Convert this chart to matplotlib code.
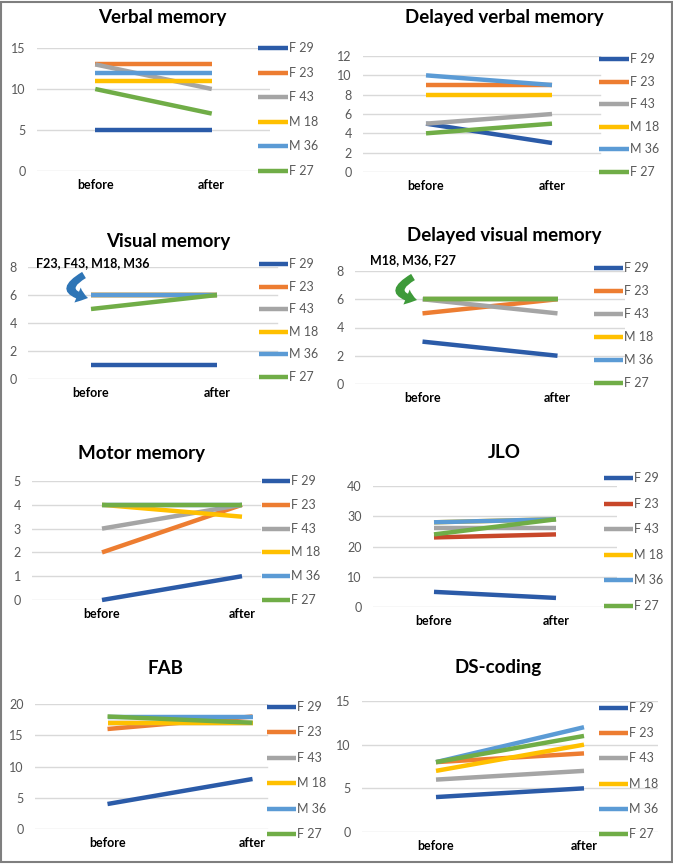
import matplotlib.pyplot as plt
from matplotlib.patches import FancyArrowPatch, Rectangle
from matplotlib.lines import Line2D

plt.rcParams['font.family'] = ['Lato', 'DejaVu Sans']

W, H = 673, 864

# === data ===
phases = ['before', 'after']
subjects = ['F 29', 'F 23', 'F 43', 'M 18', 'M 36', 'F 27']
colors = ['#2B5BA8', '#ED7D31', '#A5A5A5', '#FFC000', '#5B9BD5', '#70AD47']

verbal = [[5, 5], [13, 13], [13, 10], [11, 11], [12, 12], [10, 7]]
delayed_verbal = [[5, 3], [9, 9], [5, 6], [8, 8], [10, 9], [4, 5]]
visual = [[1, 1], [6, 6], [6, 6], [6, 6], [6, 6], [5, 6]]
delayed_visual = [[3, 2], [5, 6], [6, 5], [6, 6], [6, 6], [6, 6]]
motor = [[0, 1], [2, 4], [3, 4], [4, 3.5], [4, 4], [4, 4]]
jlo = [[5, 3], [23, 24], [26, 26], [28, 29], [28, 29], [24, 29]]
fab = [[4, 8], [16, 18], [17, 17], [17, 17], [18, 18], [18, 17]]
ds_coding = [[4, 5], [8, 9], [6, 7], [7, 10], [8, 12], [8, 11]]

# title, values, yticks, axes px (left, right, top, bottom), grid end px,
# title centre px, legend px (x0, x1, y_first, y_last)
panels = [
    ("Verbal memory", verbal, [0, 5, 10, 15], (37, 270, 48, 171), 270, (162, 18), (258, 288, 48, 171)),
    ("Delayed verbal memory", delayed_verbal, [0, 2, 4, 6, 8, 10, 12], (363, 615, 56, 172), 600, (504, 18), (599, 629, 59, 172)),
    ("Visual memory", visual, [0, 2, 4, 6, 8], (28, 280, 267, 379), 277, (168, 241), (259, 288, 264, 377)),
    ("Delayed visual memory", delayed_visual, [0, 2, 4, 6, 8], (355, 625, 271, 384), 624, (504, 235), (594, 623, 268, 383)),
    ("Motor memory", motor, [0, 1, 2, 3, 4, 5], (32, 312, 481, 600), 260, (142, 453), (262, 290, 481, 600)),
    ("JLO", jlo, [0, 10, 20, 30, 40], (373, 617, 486, 607), 616, (504, 452), (604, 633, 478, 606)),
    ("FAB", fab, [0, 5, 10, 15, 20], (35, 325, 704, 829), 267, (165, 668), (267, 296, 707, 834)),
    ("DS-coding", ds_coding, [0, 5, 10, 15], (362, 658, 701, 832), 658, (498, 668), (599, 628, 708, 834)),
]

fig = plt.figure(figsize=(W / 100, H / 100), dpi=100)


def fx(px):
    return px / W


def fy(py):
    return 1 - py / H


for title, values, yticks, (L, R, T, B), gend, (tx, ty), (lx0, lx1, ly0, ly1) in panels:
    ax = fig.add_axes([fx(L), fy(B), (R - L) / W, (B - T) / H])
    ymax = yticks[-1]
    ax.set_xlim(-0.5, 1.5)
    ax.set_ylim(0, ymax)
    for v in yticks:
        ax.axhline(v, xmax=(gend - L) / (R - L), color='#D9D9D9', lw=1, zorder=1)
    cols = colors[:]
    if title == "JLO":
        cols[1] = '#C8472A'
    for vals, c in zip(values, cols):
        ax.plot([0, 1], vals, color=c, lw=3.2, solid_capstyle='butt', zorder=3, clip_on=False)
    ax.set_xticks([0, 1])
    ax.set_xticklabels(phases, fontsize=9, fontweight='bold', color='black')
    ax.set_yticks(yticks)
    ax.set_yticklabels([str(t) for t in yticks], fontsize=9, color='#595959')
    ax.tick_params(length=0, axis='y', pad=8)
    ax.tick_params(length=0, axis='x', pad=6)
    for s in ax.spines.values():
        s.set_visible(False)
    ax.patch.set_alpha(0)

    fig.text(fx(tx), fy(ty), title, ha='center', va='center', fontsize=13.5, fontweight='bold', color='black')

    # legend
    n = len(subjects)
    for i, (name, c) in enumerate(zip(subjects, cols)):
        yy = ly0 + (ly1 - ly0) * i / (n - 1)
        fig.add_artist(Line2D([fx(lx0), fx(lx1)], [fy(yy), fy(yy)], color=c, lw=3.2, solid_capstyle='butt'))
        fig.text(fx(lx1 + 1), fy(yy), name, ha='left', va='center', fontsize=9, color='#595959')

# annotations for overlapping lines
arrow = "simple,head_length=0.6,head_width=0.9,tail_width=0.4"
fig.text(fx(36), fy(263), "F23, F43, M18, M36", ha='left', va='center', fontsize=9, fontweight='bold', color='black')
fig.add_artist(FancyArrowPatch((fx(84), fy(275)), (fx(88), fy(298)),
                               connectionstyle="arc3,rad=1.3", arrowstyle=arrow,
                               shrinkA=0, shrinkB=0,
                               mutation_scale=13, color='#2E75B6', lw=0))
fig.text(fx(370), fy(260), "M18, M36, F27", ha='left', va='center', fontsize=9, fontweight='bold', color='black')
fig.add_artist(FancyArrowPatch((fx(413), fy(277)), (fx(417), fy(300)),
                               connectionstyle="arc3,rad=1.3", arrowstyle=arrow,
                               shrinkA=0, shrinkB=0,
                               mutation_scale=13, color='#3E9A3A', lw=0))

# outer frame
fig.add_artist(Rectangle((0.002, 0.002), 0.996, 0.996, transform=fig.transFigure,
                         fill=False, edgecolor='#7F7F7F', lw=1.5))

fig.savefig('out.png', dpi=100, facecolor='white')
